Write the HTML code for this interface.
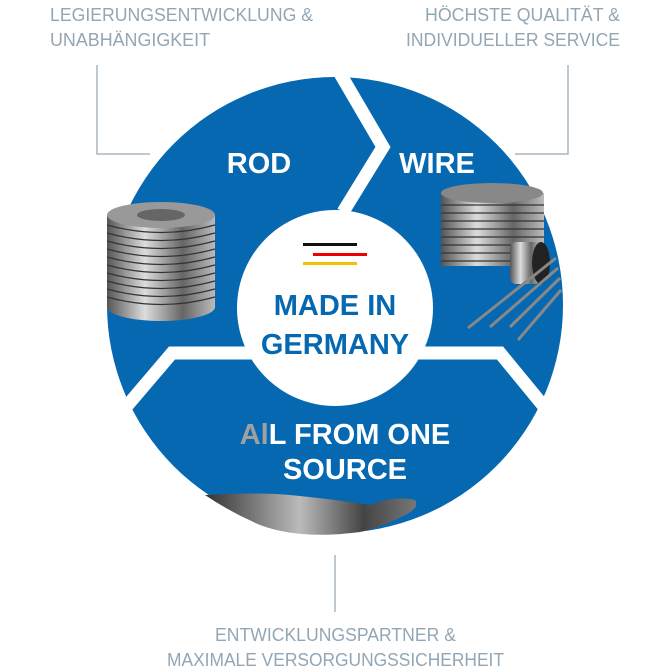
<!DOCTYPE html>
<html><head><meta charset="utf-8"><style>
html,body{margin:0;padding:0;background:#fff;width:672px;height:672px;overflow:hidden}
svg{display:block}
</style></head><body>
<svg width="672" height="672" viewBox="0 0 672 672" xmlns="http://www.w3.org/2000/svg">
<defs>
<linearGradient id="coil" x1="0" x2="1" y1="0" y2="0">
<stop offset="0" stop-color="#555"/><stop offset="0.35" stop-color="#ddd"/><stop offset="0.7" stop-color="#666"/><stop offset="1" stop-color="#bbb"/>
</linearGradient>
<linearGradient id="hand" x1="0" x2="1" y1="0" y2="0">
<stop offset="0" stop-color="#333"/><stop offset="0.45" stop-color="#bbb"/><stop offset="0.75" stop-color="#444"/><stop offset="1" stop-color="#777"/>
</linearGradient>
</defs>
<g font-family="Liberation Sans, sans-serif" fill="#93a6b4" font-size="18">
<text x="50" y="21" textLength="263" lengthAdjust="spacingAndGlyphs">LEGIERUNGSENTWICKLUNG &amp;</text>
<text x="50" y="46" textLength="160" lengthAdjust="spacingAndGlyphs">UNABHÄNGIGKEIT</text>
<text x="425" y="21" textLength="195" lengthAdjust="spacingAndGlyphs">HÖCHSTE QUALITÄT &amp;</text>
<text x="406" y="46" textLength="214" lengthAdjust="spacingAndGlyphs">INDIVIDUELLER SERVICE</text>
<text x="215" y="641" textLength="241" lengthAdjust="spacingAndGlyphs">ENTWICKLUNGSPARTNER &amp;</text>
<text x="167" y="666" textLength="337" lengthAdjust="spacingAndGlyphs">MAXIMALE VERSORGUNGSSICHERHEIT</text>
</g>
<g stroke="#a9b6c0" stroke-width="1.5" fill="none">
<polyline points="97,65 97,154 150,154"/>
<polyline points="568,65 568,154 515,154"/>
<line x1="335" y1="555" x2="335" y2="612"/>
</g>
<circle cx="335" cy="305" r="228" fill="#0568b0"/>
<g stroke="#fff" stroke-width="13" fill="none" stroke-linejoin="miter">
<polyline points="338,70 383,147 343,212"/>
<polyline points="260,353 172,353 115,420"/>
<polyline points="410,353 500,353 555,420"/>
</g>
<circle cx="335" cy="308" r="98" fill="#fff"/>
<!-- rod coil -->
<g>
<rect x="107" y="215" width="108" height="92" fill="url(#coil)"/>
<ellipse cx="161" cy="307" rx="54" ry="14" fill="url(#coil)"/>
<ellipse cx="161" cy="215" rx="54" ry="13" fill="#999"/>
<ellipse cx="161" cy="215" rx="24" ry="6" fill="#666"/>
<g stroke="#333" stroke-width="1.2" fill="none">
<path d="M107,225 Q161,240 215,225"/><path d="M107,233 Q161,248 215,233"/><path d="M107,241 Q161,256 215,241"/><path d="M107,249 Q161,264 215,249"/><path d="M107,257 Q161,272 215,257"/><path d="M107,265 Q161,280 215,265"/><path d="M107,273 Q161,288 215,273"/><path d="M107,281 Q161,296 215,281"/><path d="M107,289 Q161,304 215,289"/><path d="M107,297 Q161,312 215,297"/>
</g>
</g>
<!-- wire coil -->
<g>
<rect x="441" y="193" width="103" height="73" fill="url(#coil)"/>
<ellipse cx="492" cy="193" rx="51" ry="10" fill="#888"/>
<g stroke="#333" stroke-width="1.2" fill="none">
<line x1="441" y1="205" x2="544" y2="205"/><line x1="441" y1="213" x2="544" y2="213"/><line x1="441" y1="221" x2="544" y2="221"/><line x1="441" y1="229" x2="544" y2="229"/><line x1="441" y1="237" x2="544" y2="237"/><line x1="441" y1="245" x2="544" y2="245"/><line x1="441" y1="253" x2="544" y2="253"/><line x1="441" y1="261" x2="544" y2="261"/>
</g>
<rect x="510" y="242" width="30" height="42" rx="6" fill="url(#coil)"/>
<ellipse cx="541" cy="263" rx="9" ry="21" fill="#222"/>
<g stroke="#888" stroke-width="3">
<line x1="468" y1="328" x2="556" y2="258"/><line x1="490" y1="327" x2="558" y2="268"/><line x1="510" y1="327" x2="560" y2="278"/><line x1="518" y1="340" x2="561" y2="290"/>
</g>
</g>
<!-- hand -->
<path d="M205,495 Q260,492 290,495 Q340,500 370,505 Q395,495 415,500 Q420,508 405,515 Q380,528 360,532 Q300,540 260,525 Q230,512 205,495 Z" fill="url(#hand)"/>
<!-- flag -->
<rect x="303" y="243" width="54" height="3" fill="#111"/>
<rect x="313" y="253" width="54" height="3" fill="#e00"/>
<rect x="303" y="262" width="54" height="3" fill="#f2c200"/>
<g font-family="Liberation Sans, sans-serif" font-weight="bold" text-anchor="middle">
<text x="259" y="173" font-size="29" fill="#fff">ROD</text>
<text x="437" y="173" font-size="29" fill="#fff">WIRE</text>
<text x="335" y="315" font-size="29" fill="#0568b0">MADE IN</text>
<text x="335" y="354" font-size="29" fill="#0568b0">GERMANY</text>
<text x="345" y="444" font-size="29" fill="#fff"><tspan fill="#a0a0a0">Al</tspan>L FROM ONE</text>
<text x="345" y="479" font-size="29" fill="#fff">SOURCE</text>
</g>
</svg>
</body></html>
